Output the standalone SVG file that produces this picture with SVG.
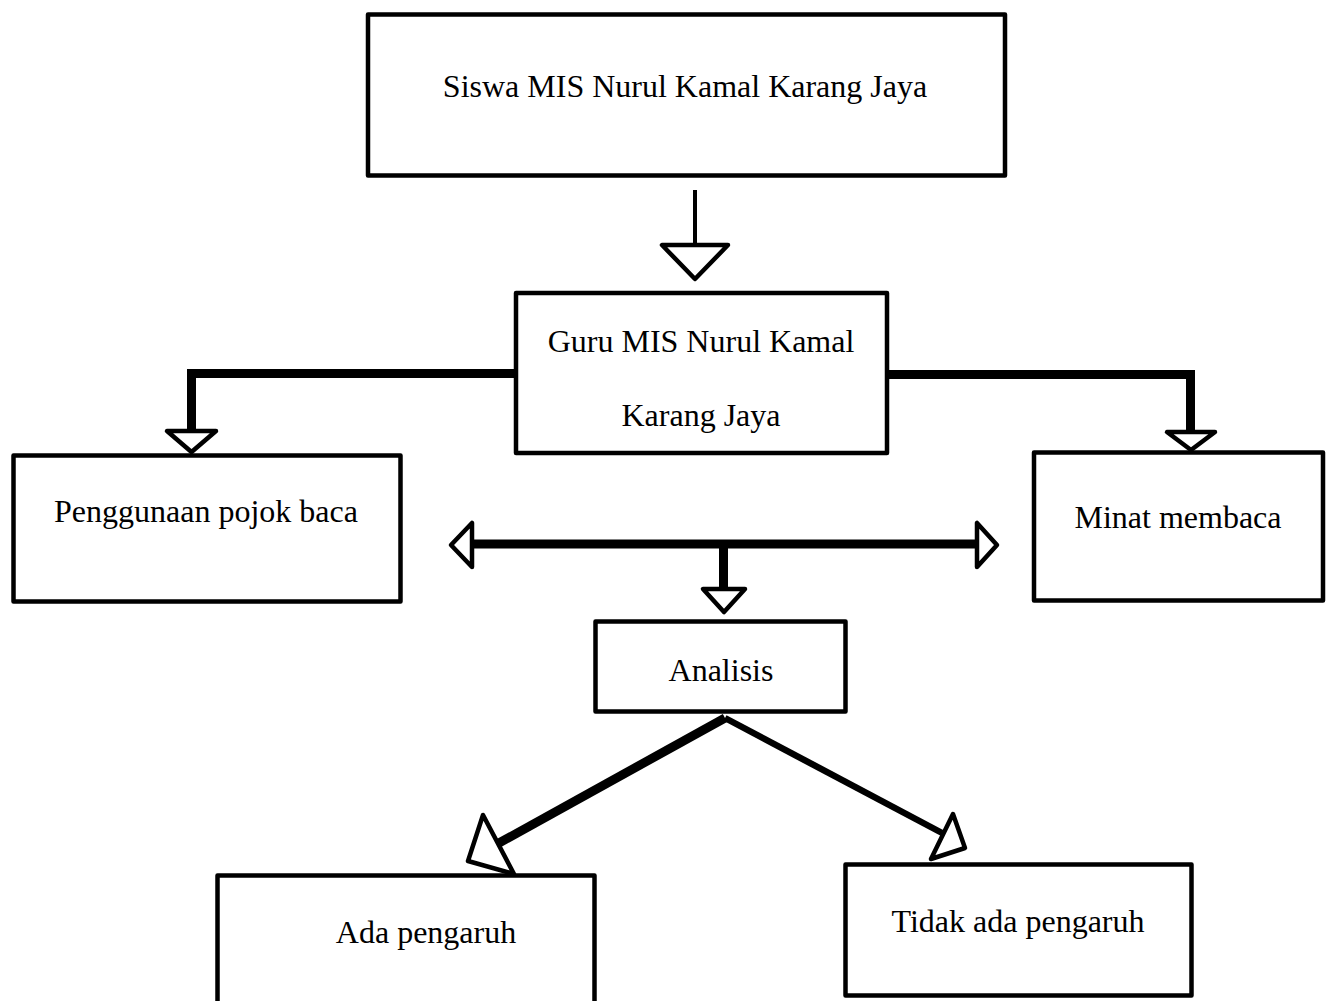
<svg xmlns="http://www.w3.org/2000/svg" width="1332" height="1001" viewBox="0 0 1332 1001">
<style>
.box{fill:#fff;stroke:#000;stroke-width:4.5;stroke-linejoin:round}
.lbl{font-family:"Liberation Serif","Times New Roman",serif;font-size:32px;fill:#000;text-anchor:middle}
.ln{fill:none;stroke:#000;stroke-linecap:butt;stroke-linejoin:miter}
.head{fill:#fff;stroke:#000;stroke-width:4.5;stroke-linejoin:round}
</style>
<rect width="1332" height="1001" fill="#fff"/>
<g id="connectors">
<line class="ln" x1="695" y1="190" x2="695" y2="245" stroke-width="4"/>
<polygon class="head" points="662,245 728,245 695,279"/>
<polyline class="ln" points="518,373.5 191.5,373.5 191.5,431" stroke-width="9"/>
<polygon class="head" points="167,431 216,431 191.5,452"/>
<polyline class="ln" points="887,374.5 1190.5,374.5 1190.5,432" stroke-width="9"/>
<polygon class="head" points="1167,432 1215,432 1191,450"/>
<line class="ln" x1="472" y1="544" x2="977" y2="544" stroke-width="9"/>
<polygon class="head" points="472,523 472,567 451,545"/>
<polygon class="head" points="977,523 977,567 997,545"/>
<line class="ln" x1="723.5" y1="544" x2="723.5" y2="589" stroke-width="9"/>
<polygon class="head" points="703,589 745,589 724,612"/>
<line class="ln" x1="725" y1="718" x2="499" y2="843" stroke-width="9"/>
<polygon class="head" points="483,815 468,861 514,874"/>
<line class="ln" x1="725" y1="718" x2="944" y2="834" stroke-width="6.5"/>
<polygon class="head" points="953,814 965,848 931,859"/>
</g>
<g id="n1"><rect class="box" x="368" y="14.5" width="637" height="161" stroke-width="5"/><text class="lbl" x="685" y="97">Siswa MIS Nurul Kamal Karang Jaya</text></g>
<g id="n2"><rect class="box" x="516" y="293" width="371" height="160"/><text class="lbl" x="701" y="352">Guru MIS Nurul Kamal</text><text class="lbl" x="701" y="426">Karang Jaya</text></g>
<g id="n3"><rect class="box" x="13.5" y="455.5" width="387" height="146"/><text class="lbl" x="206" y="522">Penggunaan pojok baca</text></g>
<g id="n4"><rect class="box" x="1034" y="452.5" width="289" height="148"/><text class="lbl" x="1178" y="528">Minat membaca</text></g>
<g id="n5"><rect class="box" x="595.5" y="621.5" width="250" height="90"/><text class="lbl" x="721" y="681">Analisis</text></g>
<g id="n6"><rect class="box" x="217.5" y="875.5" width="377" height="135"/><text class="lbl" x="426" y="943">Ada pengaruh</text></g>
<g id="n7"><rect class="box" x="845.5" y="864.5" width="346" height="131"/><text class="lbl" x="1018" y="932">Tidak ada pengaruh</text></g>
</svg>
